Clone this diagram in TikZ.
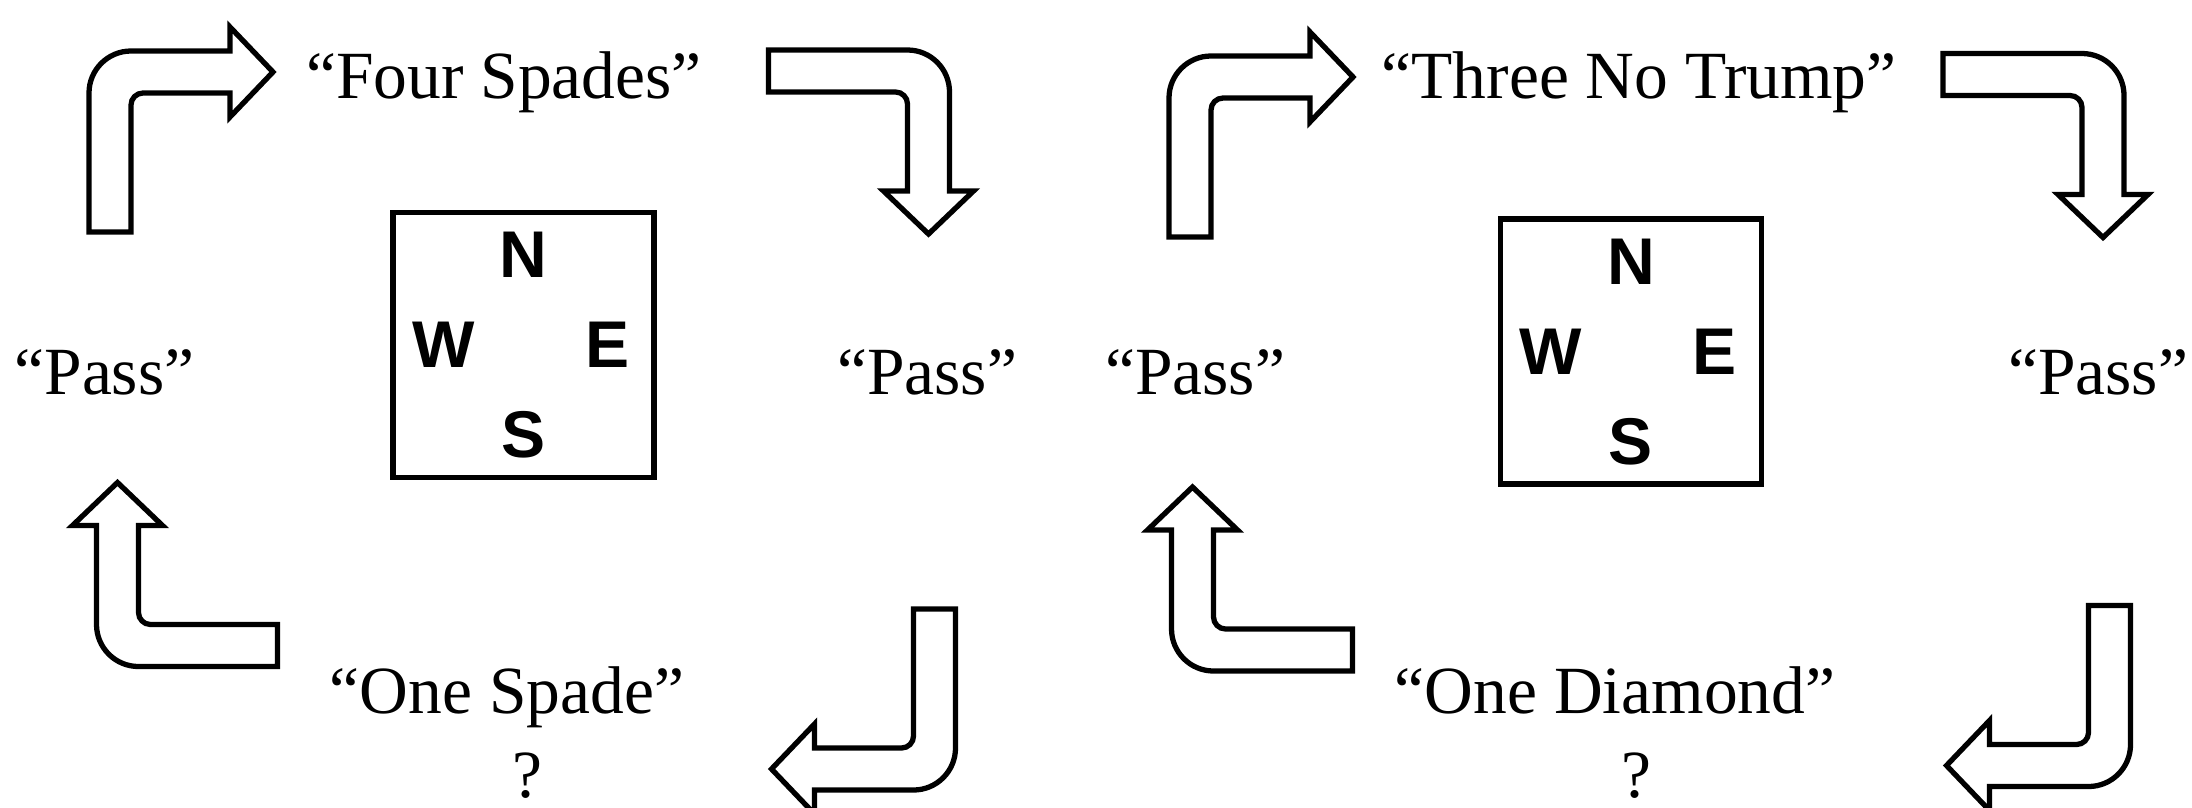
\documentclass[tikz,border=0pt]{standalone}
\usepackage{fontspec}
\setmainfont{Liberation Serif}
\setsansfont{Liberation Sans}
\tikzset{
  every picture/.style={line width=1.5pt},
  call/.style={font=\fontsize{19.2}{22}\selectfont, anchor=base, inner sep=0pt},
  tablebox/.style={draw, minimum width=2.61cm, minimum height=2.65cm, inner sep=0pt},
  seat/.style={font=\sffamily\bfseries\fontsize{18.8}{22}\selectfont, inner sep=0pt},
  turnarrow/.pic={
    \draw (-0.21,-1.6) -- (-0.21,-0.21) arc[start angle=180, end angle=90, radius=0.42]
      -- (1.2,0.21) -- (1.2,0.45) -- (1.63,0) -- (1.2,-0.45) -- (1.2,-0.21)
      -- (0.33,-0.21) arc[start angle=90, end angle=180, radius=0.12] -- (0.21,-1.6) -- cycle;
  },
}

\begin{document}
\begin{tikzpicture}
  \useasboundingbox (0,0) rectangle (21.92,8.07);
  % first auction
  \node[tablebox] (bl) at (5.235,4.62) {};
  \node[seat] (bln) at ([yshift=9mm]bl.center) {N};
  \node[seat] (bls) at ([yshift=-9mm]bl.center) {S};
  \node[seat] (blw) at ([xshift=-8mm]bl.center) {W};
  \node[seat] (ble) at ([xshift=8.4mm]bl.center) {E};
  \node[call] (fourspades) at (5.04,7.09) {“Four Spades”};
  \node[call] (passlw) at (1.045,4.13) {“Pass”};
  \node[call] (passle) at (9.27,4.13) {“Pass”};
  \node[call] (onespade) at (5.07,0.94) {“One Spade”};
  \node[call] (ql) at (5.27,0.10) {?};
  \pic at (1.10,7.35) {turnarrow};
  \pic[rotate=-90] at (9.285,7.36) {turnarrow};
  \pic[rotate=90] at (1.175,1.615) {turnarrow};
  \pic[rotate=180] at (9.345,0.38) {turnarrow};
  % second auction
  \node[tablebox] (br) at (16.31,4.555) {};
  \node[seat] (brn) at ([yshift=9mm]br.center) {N};
  \node[seat] (brs) at ([yshift=-9mm]br.center) {S};
  \node[seat] (brw) at ([xshift=-8mm]br.center) {W};
  \node[seat] (bre) at ([xshift=8.4mm]br.center) {E};
  \node[call] (threent) at (16.39,7.09) {“Three No Trump”};
  \node[call] (passrw) at (11.95,4.13) {“Pass”};
  \node[call] (passre) at (20.98,4.13) {“Pass”};
  \node[call] (onediamond) at (16.15,0.94) {“One Diamond”};
  \node[call] (qr) at (16.36,0.10) {?};
  \pic at (11.90,7.30) {turnarrow};
  \pic[rotate=-90] at (21.03,7.325) {turnarrow};
  \pic[rotate=90] at (11.925,1.57) {turnarrow};
  \pic[rotate=180] at (21.095,0.415) {turnarrow};
\end{tikzpicture}
\end{document}
